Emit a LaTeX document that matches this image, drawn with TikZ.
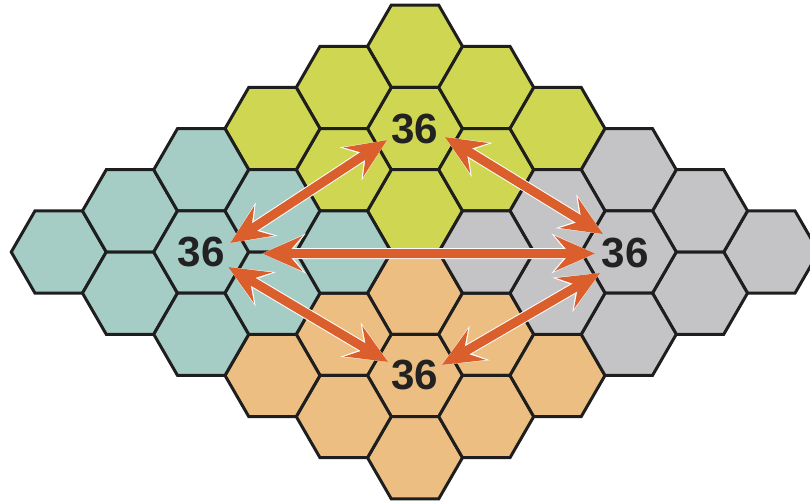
\documentclass[tikz,border=0pt]{standalone}
\usepackage{fontspec}
\setsansfont{Liberation Sans}
\usetikzlibrary{arrows.meta}
\definecolor{hexyellow}{HTML}{CFD652}
\definecolor{hexteal}{HTML}{A5CDC6}
\definecolor{hexorange}{HTML}{ECBE82}
\definecolor{hexgray}{HTML}{C4C4C6}
\definecolor{hexline}{HTML}{1E1E1E}
\definecolor{arrowred}{HTML}{DA5F2C}
\definecolor{lbltext}{HTML}{222222}

\begin{document}
\begin{tikzpicture}[
    hexcell/.style={draw=hexline, line width=1.7pt, line join=miter},
    lbl/.style={font=\sffamily\bfseries\fontsize{24}{28}\selectfont,
                text=lbltext, inner sep=0pt},
    linktip/.tip={Stealth[length=0.8cm, width=0.7cm, inset=0.3cm]},
    halotip/.tip={Stealth[length=0.86cm, width=0.78cm, inset=0.32cm]},
    link/.style={draw=arrowred, line width=0.18cm, linktip-linktip,
                 preaction={draw=white, line width=0.22cm, halotip-halotip}}
  ]
  \useasboundingbox (-8.3,-5.02) rectangle (7.9,5.04);

  % top group
  \foreach \c/\k in {0/5,0/3,0/1,-1/4,-1/2,1/4,1/2,-2/3,2/3} {
    \draw[hexcell, fill=hexyellow] (\c*1.425,\k*0.8227)
      +(0:0.95) -- +(60:0.95) -- +(120:0.95) -- +(180:0.95)
      -- +(240:0.95) -- +(300:0.95) -- cycle;
  }

  % bottom group
  \foreach \c/\k in {0/-1,0/-3,0/-5,-1/-2,-1/-4,1/-2,1/-4,-2/-3,2/-3} {
    \draw[hexcell, fill=hexorange] (\c*1.425,\k*0.8227)
      +(0:0.95) -- +(60:0.95) -- +(120:0.95) -- +(180:0.95)
      -- +(240:0.95) -- +(300:0.95) -- cycle;
  }

  % left group
  \foreach \c/\k in {-5/0,-4/1,-4/-1,-3/2,-3/0,-3/-2,-2/1,-2/-1,-1/0} {
    \draw[hexcell, fill=hexteal] (\c*1.425,\k*0.8227)
      +(0:0.95) -- +(60:0.95) -- +(120:0.95) -- +(180:0.95)
      -- +(240:0.95) -- +(300:0.95) -- cycle;
  }

  % right group
  \foreach \c/\k in {5/0,4/1,4/-1,3/2,3/0,3/-2,2/1,2/-1,1/0} {
    \draw[hexcell, fill=hexgray] (\c*1.425,\k*0.8227)
      +(0:0.95) -- +(60:0.95) -- +(120:0.95) -- +(180:0.95)
      -- +(240:0.95) -- +(300:0.95) -- cycle;
  }

  % counts
  \node[lbl] (cntT) at (0, 2.468) {36};
  \node[lbl] (cntB) at (0, -2.468) {36};
  \node[lbl] (cntL) at (-4.275, 0) {36};
  \node[lbl] (cntR) at (4.2, -0.02) {36};

  % links
  \draw[link] ([shift={(0.58,0.18)}]cntL.center)
    -- ([shift={(-0.56,-0.23)}]cntT.center);
  \draw[link] ([shift={(0.60,-0.17)}]cntT.center)
    -- ([shift={(-0.44,0.38)}]cntR.center);
  \draw[link] ([shift={(1.22,-0.03)}]cntL.center)
    -- ([shift={(-0.60,-0.01)}]cntR.center);
  \draw[link] ([shift={(0.54,-0.30)}]cntL.center)
    -- ([shift={(-0.54,0.27)}]cntB.center);
  \draw[link] ([shift={(0.54,0.21)}]cntB.center)
    -- ([shift={(-0.50,-0.40)}]cntR.center);
\end{tikzpicture}
\end{document}
